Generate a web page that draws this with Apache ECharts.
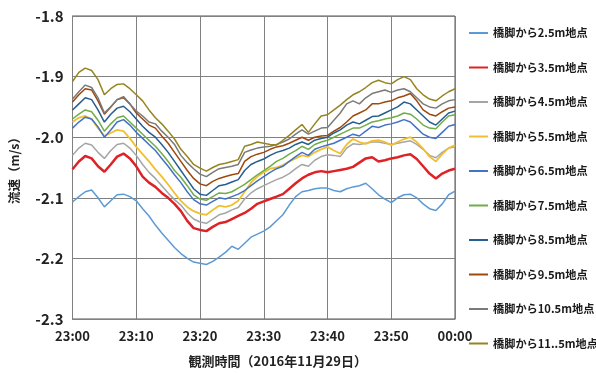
<!DOCTYPE html>
<html><head><meta charset="utf-8">
<script src="https://cdn.jsdelivr.net/npm/echarts@6/dist/echarts.min.js"></script>
<style>html,body{margin:0;padding:0;background:#fff}#c{width:596px;height:373px}</style>
</head><body><div id="c"></div>
<script>
const tickLabels = ['23:00','23:10','23:20','23:30','23:40','23:50','00:00'];
const seriesNames = ['橋脚から2.5m地点','橋脚から3.5m地点','橋脚から4.5m地点','橋脚から5.5m地点','橋脚から6.5m地点','橋脚から7.5m地点','橋脚から8.5m地点','橋脚から9.5m地点','橋脚から10.5m地点','橋脚から11..5m地点'];
// one value per minute, 23:00 .. 00:00
const v25 = [-2.107,-2.098,-2.090,-2.087,-2.100,-2.115,-2.105,-2.095,-2.094,-2.098,-2.105,-2.118,-2.130,-2.145,-2.158,-2.170,-2.182,-2.192,-2.200,-2.206,-2.208,-2.210,-2.205,-2.198,-2.190,-2.180,-2.185,-2.175,-2.165,-2.160,-2.155,-2.148,-2.138,-2.128,-2.112,-2.098,-2.090,-2.088,-2.085,-2.084,-2.084,-2.088,-2.090,-2.085,-2.082,-2.080,-2.076,-2.085,-2.095,-2.102,-2.108,-2.100,-2.095,-2.094,-2.100,-2.110,-2.118,-2.121,-2.110,-2.095,-2.089];
const v35 = [-2.053,-2.040,-2.031,-2.035,-2.048,-2.057,-2.045,-2.032,-2.027,-2.035,-2.048,-2.065,-2.075,-2.082,-2.092,-2.100,-2.110,-2.122,-2.138,-2.150,-2.153,-2.155,-2.148,-2.142,-2.140,-2.135,-2.130,-2.125,-2.118,-2.110,-2.106,-2.102,-2.098,-2.094,-2.085,-2.076,-2.068,-2.062,-2.058,-2.056,-2.058,-2.056,-2.054,-2.052,-2.049,-2.042,-2.035,-2.033,-2.040,-2.038,-2.035,-2.033,-2.030,-2.028,-2.036,-2.048,-2.060,-2.068,-2.060,-2.055,-2.052];
const v45 = [-2.030,-2.018,-2.010,-2.013,-2.025,-2.035,-2.022,-2.012,-2.010,-2.018,-2.030,-2.045,-2.058,-2.068,-2.080,-2.092,-2.103,-2.112,-2.125,-2.135,-2.140,-2.142,-2.135,-2.128,-2.125,-2.120,-2.116,-2.102,-2.092,-2.085,-2.080,-2.075,-2.070,-2.066,-2.060,-2.052,-2.045,-2.048,-2.038,-2.032,-2.029,-2.030,-2.032,-2.018,-2.011,-2.012,-2.010,-2.008,-2.008,-2.010,-2.012,-2.010,-2.008,-2.006,-2.012,-2.020,-2.030,-2.034,-2.025,-2.018,-2.016];
const v55 = [-1.975,-1.968,-1.965,-1.970,-1.985,-1.998,-1.993,-1.988,-1.990,-2.002,-2.016,-2.028,-2.040,-2.053,-2.065,-2.078,-2.092,-2.105,-2.115,-2.122,-2.126,-2.128,-2.120,-2.113,-2.115,-2.112,-2.105,-2.090,-2.075,-2.065,-2.058,-2.052,-2.050,-2.046,-2.040,-2.035,-2.030,-2.032,-2.025,-2.020,-2.016,-2.022,-2.027,-2.012,-2.003,-2.008,-2.011,-2.006,-2.005,-2.008,-2.013,-2.008,-2.003,-2.000,-2.008,-2.019,-2.032,-2.040,-2.028,-2.018,-2.013];
const v65 = [-1.985,-1.975,-1.967,-1.970,-1.983,-2.000,-1.988,-1.975,-1.971,-1.980,-1.992,-2.002,-2.012,-2.022,-2.035,-2.048,-2.062,-2.075,-2.090,-2.103,-2.110,-2.112,-2.106,-2.100,-2.102,-2.098,-2.094,-2.088,-2.080,-2.072,-2.065,-2.058,-2.052,-2.048,-2.040,-2.032,-2.025,-2.030,-2.020,-2.016,-2.013,-2.010,-2.005,-2.000,-1.995,-1.998,-1.990,-1.982,-1.984,-1.980,-1.978,-1.975,-1.971,-1.975,-1.985,-1.995,-2.000,-2.002,-1.992,-1.982,-1.979];
const v75 = [-1.970,-1.962,-1.955,-1.958,-1.972,-1.990,-1.978,-1.968,-1.965,-1.975,-1.985,-1.995,-2.005,-2.015,-2.027,-2.040,-2.055,-2.066,-2.080,-2.095,-2.102,-2.104,-2.098,-2.092,-2.093,-2.090,-2.084,-2.078,-2.070,-2.062,-2.055,-2.048,-2.040,-2.035,-2.028,-2.022,-2.015,-2.020,-2.012,-2.008,-2.005,-2.000,-1.995,-1.990,-1.985,-1.985,-1.980,-1.975,-1.973,-1.970,-1.968,-1.965,-1.960,-1.962,-1.970,-1.980,-1.985,-1.986,-1.975,-1.965,-1.963];
const v85 = [-1.955,-1.945,-1.935,-1.938,-1.955,-1.975,-1.962,-1.952,-1.949,-1.958,-1.970,-1.982,-1.992,-2.000,-2.012,-2.025,-2.040,-2.055,-2.070,-2.085,-2.094,-2.096,-2.088,-2.080,-2.078,-2.074,-2.070,-2.055,-2.045,-2.040,-2.036,-2.030,-2.025,-2.022,-2.018,-2.012,-2.008,-2.012,-2.005,-2.002,-2.000,-1.993,-1.988,-1.980,-1.975,-1.978,-1.972,-1.966,-1.965,-1.960,-1.955,-1.950,-1.942,-1.945,-1.955,-1.965,-1.975,-1.980,-1.970,-1.960,-1.957];
const v95 = [-1.942,-1.930,-1.920,-1.922,-1.940,-1.962,-1.950,-1.938,-1.935,-1.945,-1.960,-1.970,-1.980,-1.985,-1.998,-2.010,-2.025,-2.040,-2.055,-2.068,-2.077,-2.080,-2.073,-2.068,-2.065,-2.062,-2.060,-2.040,-2.032,-2.028,-2.025,-2.020,-2.016,-2.014,-2.010,-2.005,-2.000,-2.005,-2.000,-1.998,-1.997,-1.990,-1.984,-1.975,-1.965,-1.960,-1.955,-1.945,-1.945,-1.942,-1.940,-1.935,-1.932,-1.928,-1.940,-1.955,-1.962,-1.965,-1.958,-1.952,-1.950];
const v105 = [-1.937,-1.925,-1.914,-1.918,-1.935,-1.960,-1.950,-1.938,-1.933,-1.945,-1.957,-1.965,-1.975,-1.978,-1.990,-2.000,-2.012,-2.030,-2.042,-2.052,-2.061,-2.065,-2.058,-2.052,-2.050,-2.048,-2.045,-2.025,-2.021,-2.018,-2.016,-2.015,-2.012,-2.008,-2.003,-1.995,-1.988,-1.995,-1.990,-1.985,-1.984,-1.972,-1.960,-1.945,-1.940,-1.945,-1.935,-1.928,-1.925,-1.922,-1.926,-1.922,-1.920,-1.925,-1.935,-1.945,-1.950,-1.952,-1.945,-1.940,-1.938];
const v115 = [-1.908,-1.893,-1.886,-1.890,-1.905,-1.930,-1.920,-1.913,-1.912,-1.920,-1.930,-1.940,-1.955,-1.968,-1.978,-1.990,-2.003,-2.020,-2.032,-2.045,-2.051,-2.056,-2.050,-2.045,-2.043,-2.040,-2.037,-2.015,-2.012,-2.008,-2.010,-2.012,-2.013,-2.005,-1.997,-1.988,-1.979,-1.992,-1.978,-1.965,-1.963,-1.955,-1.947,-1.938,-1.930,-1.925,-1.918,-1.910,-1.906,-1.910,-1.912,-1.905,-1.900,-1.905,-1.920,-1.930,-1.937,-1.940,-1.932,-1.925,-1.920];
const seriesValues = [v25,v35,v45,v55,v65,v75,v85,v95,v105,v115];
const colors = ['#5B9BD5','#DE2226','#A5A5A5','#F0C030','#4472C4','#70AD47','#255E91','#9E480E','#7A7A7A','#968420'];
const widths = [1.5,2.5,1.5,1.8,1.5,1.5,1.5,1.5,1.5,1.5];

const FONT = '"Noto Sans CJK JP", "Noto Sans", sans-serif';
const chart = echarts.init(document.getElementById('c'), null, {renderer:'canvas'});
chart.setOption({
  animation:false,
  backgroundColor:'#fff',
  grid:{left:71, top:16, right:141, bottom:47, show:true, borderColor:'#555', borderWidth:1},
  legend:{
    orient:'vertical', left:464, top:21, itemWidth:19, itemHeight:2, itemGap:20.5,
    icon:'rect',
    textStyle:{fontFamily:FONT, fontSize:11.2, fontWeight:'bold', color:'#1a1a1a', lineHeight:14},
    data: seriesNames
  },
  xAxis:{
    type:'value', min:0, max:60, interval:10,
    name:'観測時間（2016年11月29日）', nameLocation:'middle', nameGap:36,
    nameTextStyle:{fontFamily:FONT, fontSize:13, fontWeight:'bold', color:'#222', padding:[0,0,0,28]},
    axisLine:{lineStyle:{color:'#808080'}},
    axisTick:{show:false},
    axisLabel:{fontFamily:FONT, fontSize:13, fontWeight:'bold', color:'#222', margin:11,
      formatter:(v)=>tickLabels[Math.round(v/10)]},
    splitLine:{show:true, lineStyle:{color:'#808080', width:1}}
  },
  yAxis:{
    type:'value', min:-2.3, max:-1.8, interval:0.1,
    name:'流速（m/s）', nameLocation:'middle', nameGap:52, nameRotate:90,
    nameTextStyle:{fontFamily:FONT, fontSize:12.5, fontWeight:'bold', color:'#222'},
    axisLine:{show:true, lineStyle:{color:'#808080'}},
    axisTick:{show:false},
    axisLabel:{fontFamily:FONT, fontSize:15, fontWeight:'bold', color:'#222', margin:9,
      formatter:(v)=>v.toFixed(1)},
    splitLine:{show:true, lineStyle:{color:'#808080', width:1}}
  },
  series: seriesValues.map((vals, k)=>({
    name: seriesNames[k], type:'line', showSymbol:false, symbol:'none',
    lineStyle:{color:colors[k], width:widths[k]}, itemStyle:{color:colors[k]},
    z: k===1 ? 3 : 2,
    data: vals.map((v,i)=>[i, v])
  }))
});
</script></body></html>
